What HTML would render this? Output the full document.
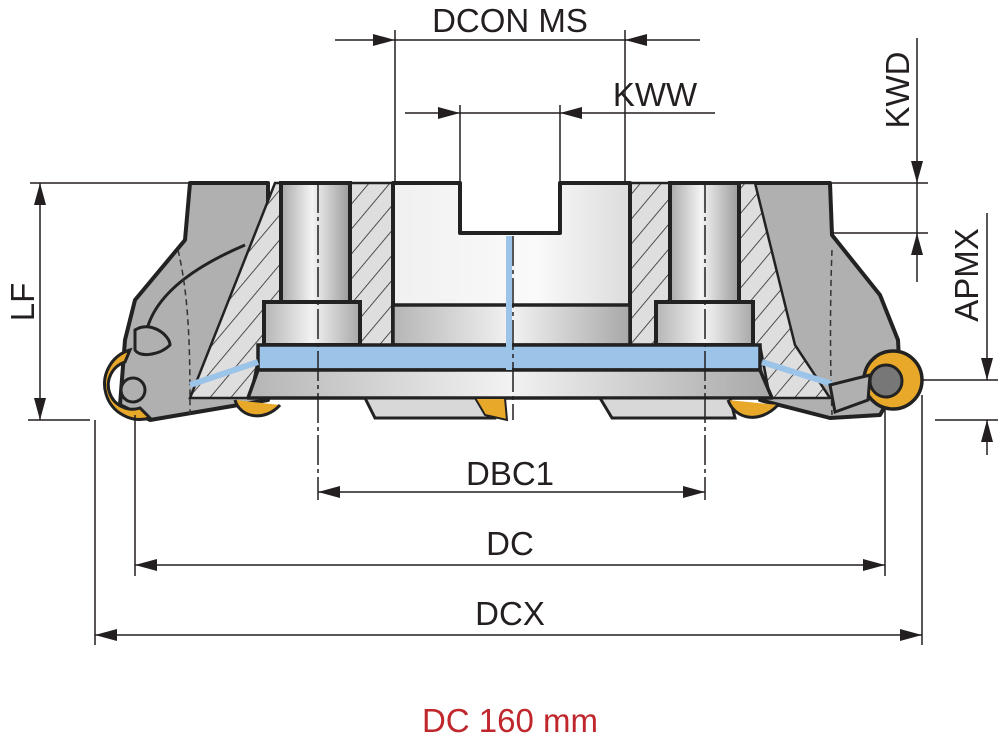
<!DOCTYPE html>
<html><head><meta charset="utf-8"><style>
html,body{margin:0;padding:0;background:#fff;}
svg{display:block;}
text{font-family:"Liberation Sans",Arial,sans-serif;fill:#231f20;}
</style></head><body>
<svg width="1000" height="740" viewBox="0 0 1000 740" xmlns="http://www.w3.org/2000/svg">
<defs>
<linearGradient id="cyl" x1="0" x2="1" y1="0" y2="0">
<stop offset="0" stop-color="#a9a9a9"/><stop offset="0.45" stop-color="#f4f4f4"/><stop offset="1" stop-color="#9a9a9a"/>
</linearGradient>
<linearGradient id="flat" x1="0" x2="1" y1="0" y2="0">
<stop offset="0" stop-color="#b5b5b5"/><stop offset="0.5" stop-color="#f2f2f2"/><stop offset="1" stop-color="#a8a8a8"/>
</linearGradient>
<linearGradient id="ctr" x1="0" x2="1" y1="0" y2="0">
<stop offset="0" stop-color="#f0f0f0"/><stop offset="0.6" stop-color="#fafafa"/><stop offset="1" stop-color="#dcdcdc"/>
</linearGradient>
<pattern id="hatch" width="16" height="16" patternUnits="userSpaceOnUse" patternTransform="rotate(40)">
<rect width="16" height="16" fill="#dedede"/><line x1="0" y1="0" x2="0" y2="16" stroke="#2a2a2a" stroke-width="1.6"/>
</pattern>
<marker id="ar" markerWidth="22" markerHeight="12" refX="22" refY="6" orient="auto" markerUnits="userSpaceOnUse">
<path d="M0,0 L22,6 L0,12 Z" fill="#231f20"/></marker>
<marker id="al" markerWidth="22" markerHeight="12" refX="0" refY="6" orient="auto" markerUnits="userSpaceOnUse">
<path d="M22,0 L0,6 L22,12 Z" fill="#231f20"/></marker>
</defs>

<path d="M190,183 L268,183 L268,400 L150,420 L120,405 L125,340 L135,300 L185,240 Z" fill="#b0b0b0" stroke="#222" stroke-width="4" stroke-linejoin="round"/>
<path d="M740,183 L830,183 L832,235 L880,295 L898,340 L900,380 L880,415 L830,418 L760,400 Z" fill="#b0b0b0" stroke="#222" stroke-width="4" stroke-linejoin="round"/>
<path d="M145,340 C150,290 210,260 245,245" fill="none" stroke="#222" stroke-width="3"/>
<path d="M178,250 C190,300 190,360 190,415" fill="none" stroke="#333" stroke-width="1.5" stroke-dasharray="6,4"/>
<path d="M832,250 C830,300 830,360 832,415" fill="none" stroke="#333" stroke-width="1.5" stroke-dasharray="6,4"/>
<path d="M135,330 C150,320 170,335 170,345 C160,355 140,358 135,350 Z" fill="#b0b0b0" stroke="#222" stroke-width="3"/>

<path d="M275,183 L395,183 L395,345 L258,345 L258,360 L250,398 L190,398 Z" fill="url(#hatch)" stroke="#222" stroke-width="2.5"/>
<path d="M630,183 L755,183 L795,345 L830,398 L770,398 L760,345 L630,345 Z" fill="url(#hatch)" stroke="#222" stroke-width="2.5"/>

<path d="M393,183 L460,183 L460,233 L560,233 L560,183 L630,183 L630,345 L393,345 Z" fill="url(#ctr)" stroke="#222" stroke-width="4" stroke-linejoin="round"/>
<rect x="393" y="305" width="237" height="40" fill="url(#flat)" stroke="#222" stroke-width="3.5"/>

<rect x="281" y="183" width="69" height="120" fill="url(#cyl)" stroke="#222" stroke-width="4"/>
<rect x="264" y="302" width="96" height="43" fill="url(#flat)" stroke="#222" stroke-width="4"/>
<rect x="670" y="183" width="69" height="120" fill="url(#cyl)" stroke="#222" stroke-width="4"/>
<rect x="656" y="302" width="97" height="43" fill="url(#flat)" stroke="#222" stroke-width="4"/>

<rect x="258" y="345" width="502" height="25" fill="#9cc3e8" stroke="#222" stroke-width="3.5"/>
<path d="M258,370 L760,370 L772,398 L248,398 Z" fill="url(#flat)" stroke="#222" stroke-width="3.5" stroke-linejoin="round"/>
<line x1="190" y1="385" x2="258" y2="362" stroke="#9cc3e8" stroke-width="6"/>
<line x1="762" y1="362" x2="832" y2="384" stroke="#9cc3e8" stroke-width="6"/>
<line x1="509" y1="236" x2="509" y2="370" stroke="#9cc3e8" stroke-width="6"/>

<path d="M365,398 L500,398 L495,418 L375,418 Z" fill="#d8d8d8" stroke="#222" stroke-width="3"/>
<path d="M600,398 L730,398 L735,418 L612,418 Z" fill="#d8d8d8" stroke="#222" stroke-width="3"/>
<path d="M475,398 L505,398 L507,420 L485,415 Z" fill="#e8a82a" stroke="#222" stroke-width="2"/>
<path d="M235,400 C240,418 265,422 280,405" fill="#e8a82a" stroke="#222" stroke-width="3"/>
<path d="M728,400 C735,420 760,424 778,405" fill="#e8a82a" stroke="#222" stroke-width="3"/>

<path d="M130,350 A30,30 0 1,0 150,418 L140,408 A20,20 0 0,1 125,362 Z" fill="#e8a82a" stroke="#222" stroke-width="3"/>
<circle cx="133" cy="390" r="12" fill="#b0b0b0" stroke="#222" stroke-width="3"/>
<circle cx="893" cy="380" r="29" fill="#e8a82a" stroke="#222" stroke-width="3.5"/>
<circle cx="886" cy="381" r="16" fill="#777" stroke="#222" stroke-width="3"/>
<path d="M830,385 L870,375 L868,400 L835,412 Z" fill="#b0b0b0" stroke="#222" stroke-width="3"/>

<g stroke="#231f20" stroke-width="1.5" fill="none">
<line x1="318" y1="183" x2="318" y2="500" stroke-dasharray="30,4,4,4"/>
<line x1="705" y1="183" x2="705" y2="500" stroke-dasharray="30,4,4,4"/>
<line x1="513" y1="236" x2="513" y2="420" stroke-dasharray="30,4,4,4"/>
</g>

<g stroke="#231f20" stroke-width="1.5" fill="none">
<line x1="395" y1="30" x2="395" y2="183"/><line x1="625" y1="30" x2="625" y2="183"/>
<line x1="335" y1="40" x2="395" y2="40" marker-end="url(#ar)"/>
<line x1="700" y1="40" x2="625" y2="40" marker-end="url(#ar)"/>
<line x1="395" y1="40" x2="625" y2="40"/>
<line x1="460" y1="105" x2="460" y2="233"/><line x1="560" y1="105" x2="560" y2="233"/>
<line x1="405" y1="113" x2="460" y2="113" marker-end="url(#ar)"/>
<line x1="715" y1="113" x2="560" y2="113" marker-end="url(#ar)"/>
<line x1="460" y1="113" x2="560" y2="113"/>
<line x1="832" y1="183" x2="928" y2="183"/><line x1="832" y1="233" x2="928" y2="233"/>
<line x1="917" y1="38" x2="917" y2="183" marker-end="url(#ar)"/>
<line x1="917" y1="282" x2="917" y2="233" marker-end="url(#ar)"/>
<line x1="917" y1="183" x2="917" y2="233"/>
<line x1="922" y1="380" x2="998" y2="380"/><line x1="935" y1="420" x2="998" y2="420"/>
<line x1="987" y1="213" x2="987" y2="380" marker-end="url(#ar)"/>
<line x1="987" y1="455" x2="987" y2="420" marker-end="url(#ar)"/>
<line x1="30" y1="183" x2="190" y2="183"/><line x1="28" y1="420" x2="90" y2="420"/>
<line x1="40" y1="183" x2="40" y2="420" marker-start="url(#al)" marker-end="url(#ar)"/>
<line x1="318" y1="492" x2="705" y2="492" marker-start="url(#al)" marker-end="url(#ar)"/>
<line x1="135" y1="415" x2="135" y2="576"/><line x1="885" y1="410" x2="885" y2="576"/>
<line x1="135" y1="565" x2="885" y2="565" marker-start="url(#al)" marker-end="url(#ar)"/>
<line x1="95" y1="420" x2="95" y2="645"/><line x1="922" y1="395" x2="922" y2="645"/>
<line x1="95" y1="635" x2="922" y2="635" marker-start="url(#al)" marker-end="url(#ar)"/>
</g>

<g font-size="33">
<text x="510" y="32" text-anchor="middle">DCON MS</text>
<text x="655" y="106" text-anchor="middle">KWW</text>
<text x="510" y="485" text-anchor="middle">DBC1</text>
<text x="510" y="555" text-anchor="middle">DC</text>
<text x="510" y="625" text-anchor="middle">DCX</text>
<text transform="translate(909,90) rotate(-90)" text-anchor="middle">KWD</text>
<text transform="translate(978,275) rotate(-90)" text-anchor="middle">APMX</text>
<text transform="translate(34,302) rotate(-90)" text-anchor="middle">LF</text>
<text x="510" y="732" text-anchor="middle" style="fill:#c0272d">DC 160 mm</text>
</g>
</svg>
</body></html>
